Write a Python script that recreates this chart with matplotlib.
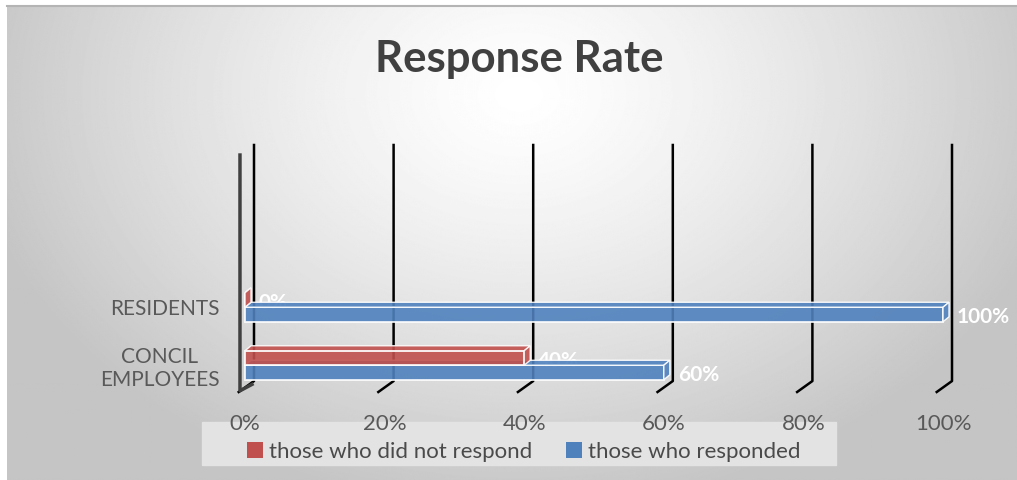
import numpy as np
import matplotlib.pyplot as plt
from matplotlib.patches import Polygon, Rectangle, Patch

plt.rcParams['font.family'] = ['Lato', 'DejaVu Sans']

categories = ['CONCIL\nEMPLOYEES', 'RESIDENTS']
not_responded = [40, 0]
responded = [60, 100]
series_names = ['those who did not respond', 'those who responded']
ticks = [0, 20, 40, 60, 80, 100]
tick_labels = ['0%', '20%', '40%', '60%', '80%', '100%']

red = '#c0504d'
blue = '#4f81bd'

W, H = 1017, 480
fig = plt.figure(figsize=(W / 100, H / 100), dpi=100)

# gradient background (radial, light in the middle)
bg = fig.add_axes([0, 0, 1, 1])
bg.set_xlim(0, W)
bg.set_ylim(H, 0)
bg.axis('off')
X, Y = np.meshgrid(np.arange(W), np.arange(H))
d = np.sqrt(((X - 515) / 560.0) ** 2 + ((Y - 90) / 420.0) ** 2)
g = 1 - 0.23 * np.clip(d, 0, 1) ** 1.3
bg.imshow(g, cmap='gray', vmin=0, vmax=1, extent=(7, W, H, 5),
          aspect='auto', interpolation='bilinear')
bg.plot([7, W], [5.5, 5.5], color='#b4b4b4', lw=1.5)
bg.add_patch(Rectangle((202, 422), 634, 43, color='#e3e3e3', zorder=2))

# main plot area
ax = fig.add_axes([235 / W, 88 / H, 725 / W, 247 / H])
ax.set_xlim(-10 / 6.98, 100 + 17 / 6.98)
ax.set_ylim(-0.461, 3.797)
ax.patch.set_alpha(0)
for s in ax.spines.values():
    s.set_visible(False)

# pseudo 3d gridlines
for v in ticks:
    ax.plot([v + 1.29, v + 1.29, v - 0.9], [3.797, -0.272, -0.461],
            color='black', lw=1.8, zorder=1, clip_on=False)
ax.plot([-0.72, -0.72, 1.0], [3.624, -0.44, -0.33],
        color='#404040', lw=2.5, zorder=1, clip_on=False)

ypos = np.arange(len(categories))
h = 0.25
dx, dy = 0.86, 0.086


def bar3d(vals, yc, color, z):
    ax.barh(yc, vals, height=h, color=color, edgecolor='white', lw=1.3,
            alpha=0.9, zorder=z)
    for v, y in zip(vals, yc):
        top = [(0, y + h / 2), (v, y + h / 2), (v + dx, y + h / 2 + dy), (dx, y + h / 2 + dy)]
        end = [(v, y - h / 2), (v, y + h / 2), (v + dx, y + h / 2 + dy), (v + dx, y - h / 2 + dy)]
        ax.add_patch(Polygon(top, closed=True, facecolor=color, edgecolor='white',
                             lw=1.0, alpha=0.9, zorder=z))
        ax.add_patch(Polygon(end, closed=True, facecolor=color, edgecolor='white',
                             lw=1.0, alpha=0.9, zorder=z))


bar3d(responded, ypos - h / 2, blue, 3)
bar3d(not_responded, ypos + h / 2, red, 4)

for v, y in zip(not_responded, ypos + h / 2):
    ax.text(v + 2.0, y - 0.05, '%d%%' % v, color='white', fontweight='bold',
            fontsize=15, va='center', ha='left', zorder=2.5)
for v, y in zip(responded, ypos - h / 2):
    ax.text(v + 2.0, y - 0.05, '%d%%' % v, color='white', fontweight='bold',
            fontsize=15, va='center', ha='left', zorder=5)

ax.set_xticks(ticks, tick_labels)
ax.tick_params(axis='x', length=0, pad=16, labelsize=16, labelcolor='#595959')
ax.set_yticks(ypos, categories)
ax.tick_params(axis='y', length=0, pad=11, labelsize=15, labelcolor='#595959')
for t in ax.get_yticklabels():
    t.set_multialignment('center')

fig.text(519 / W, 1 - 59 / H, 'Response Rate', ha='center', va='center',
         fontsize=31.5, fontweight='bold', color='#404040')

handles = [Patch(facecolor=red), Patch(facecolor=blue)]
fig.legend(handles, series_names, loc='center', bbox_to_anchor=(524 / W, 1 - 452 / H),
           ncol=2, frameon=False, fontsize=16, labelcolor='#4a4a4a',
           handlelength=0.7, handleheight=0.7, handletextpad=0.3, columnspacing=1.5)

fig.savefig('out.png', dpi=100)
